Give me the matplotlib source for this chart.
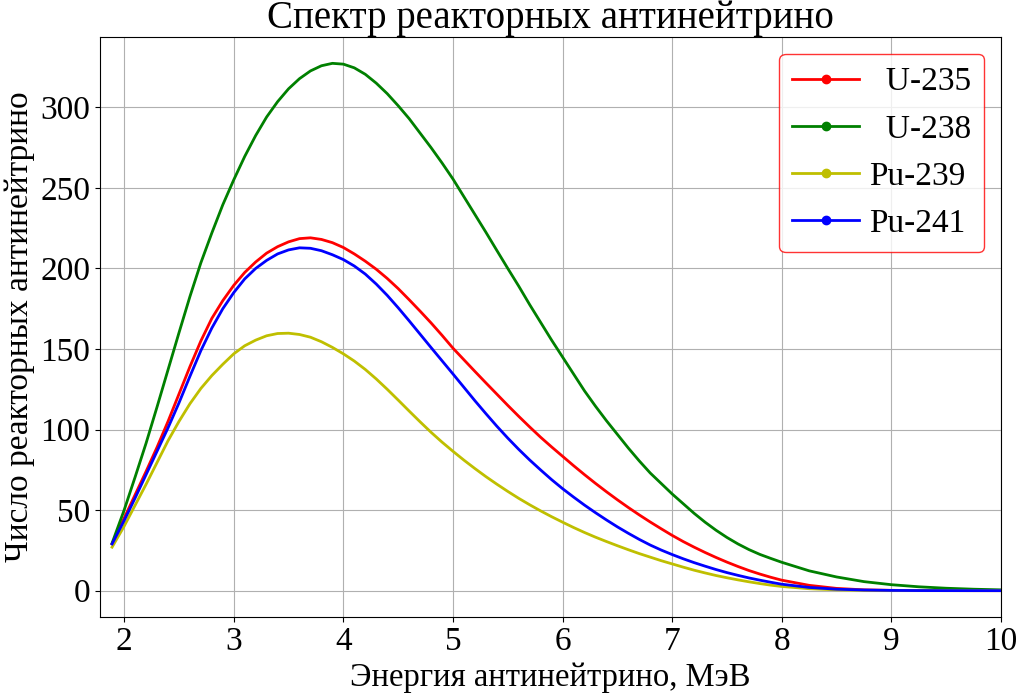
import numpy as np
import matplotlib.pyplot as plt
from matplotlib.lines import Line2D

plt.rcParams['font.family'] = ['Liberation Serif', 'DejaVu Serif']

# Энергия антинейтрино, МэВ: 1.89, затем 2.0..8.0 с шагом 0.1, затем хвост
energy = ([1.89] + [round(2.0 + 0.1 * i, 1) for i in range(61)]
          + [8.25, 8.5, 8.75, 9.0, 9.25, 9.5, 9.75, 10.0])

u238 = [29.5,
        50, 70.5, 91.5, 114, 137, 160, 182.5, 203.5, 222, 239.5,
        255, 269.5, 282.5, 294, 303.5, 311.5, 317.8, 322.6, 325.8, 327.3,
        326.8, 324.5, 320.5, 315, 308.5, 301, 293, 284, 275, 265.5,
        255.5, 244.5, 233.5, 222.5, 211.2, 200, 189, 177.5, 166.5, 155.5,
        145, 134.5, 124, 114.5, 105.5, 97, 88.5, 80.5, 73, 66.5,
        60, 54, 48, 42.5, 37.5, 33, 29, 25.5, 22.5, 20, 17.6,
        12.3, 8.5, 5.6, 3.7, 2.4, 1.5, 0.9, 0.5]

u235 = [29,
        45, 59.5, 74, 89, 105, 122, 139, 155, 169, 180,
        189.5, 197.5, 204, 209.5, 213.5, 216.5, 218.5, 219, 218, 216,
        213, 209, 204.5, 199.5, 193.8, 187.5, 180.6, 173.5, 166.2, 158.5,
        150.5, 143.3, 136.1, 129, 122, 115, 108.2, 101.6, 95.2, 89.2,
        83.4, 77.6, 72.0, 66.6, 61.4, 56.4, 51.6, 47.0, 42.6, 38.4,
        34.3, 30.5, 27, 23.7, 20.6, 17.7, 15, 12.5, 10.3, 8.3, 6.5,
        3.3, 1.4, 0.5, 0.2, 0.08, 0.03, 0.01, 0.0]

pu241 = [29,
         43.5, 57.5, 72, 86.5, 101, 116.5, 133, 149, 163, 175,
         185, 193.5, 200, 205, 209, 211.5, 212.8, 212.5, 211, 208.5,
         205.5, 201.5, 196.5, 190.3, 183.3, 175.6, 167.5, 159.2, 150.9, 142.7,
         134.5, 126.2, 117.9, 109.9, 102.1, 94.7, 87.7, 81.1, 74.9, 68.9,
         63.3, 58.1, 53.1, 48.4, 43.9, 39.6, 35.6, 31.8, 28.3, 25.2,
         22.4, 19.8, 17.4, 15.2, 13.1, 11.2, 9.5, 7.9, 6.5, 5.2, 4.0,
         2.0, 0.9, 0.4, 0.15, 0.05, 0.02, 0.01, 0.0]

pu239 = [27,
         40, 53, 66, 79.5, 93, 105, 116, 125.5, 133.5, 140.5,
         147, 152, 155.5, 158.2, 159.6, 159.8, 159, 157.3, 154.5, 151,
         147, 142.5, 137.3, 131.4, 125, 118.3, 111.5, 104.8, 98.3, 92.2,
         86.5, 81, 75.8, 70.8, 66.1, 61.6, 57.3, 53.3, 49.5, 45.9,
         42.5, 39.2, 36.1, 33.2, 30.5, 27.9, 25.4, 23, 20.8, 18.6,
         16.6, 14.6, 12.7, 11.0, 9.4, 8.0, 6.7, 5.5, 4.4, 3.4, 2.6,
         1.2, 0.5, 0.2, 0.08, 0.03, 0.01, 0.0, 0.0]

series = [('  U-235', u235, 'r'),
          ('  U-238', u238, 'g'),
          ('Pu-239', pu239, 'y'),
          ('Pu-241', pu241, 'b')]

fig = plt.figure(figsize=(10.27, 6.95), dpi=100)
ax = fig.add_axes([0.0974, 0.1122, 0.8773, 0.8346])

handles = []
for label, vals, col in series:
    ax.plot(energy, vals, color=col, linewidth=2)
    handles.append(Line2D([], [], color=col, linewidth=2, marker='o',
                          markersize=6, label=label))

ax.set_xlim(1.78, 10)
ax.set_title('Спектр реакторных антинейтрино', fontsize=28)
ax.set_xlabel('Энергия антинейтрино, МэВ', fontsize=23.5)
ax.set_ylabel('Число реакторных антинейтрино', fontsize=24)
ax.tick_params(labelsize=24)
ax.grid(True)

leg = ax.legend(handles=handles, loc='upper right', fontsize=24, numpoints=1,
                handletextpad=0.3)
leg.get_frame().set_edgecolor('red')

plt.savefig('out.png', dpi=100)
